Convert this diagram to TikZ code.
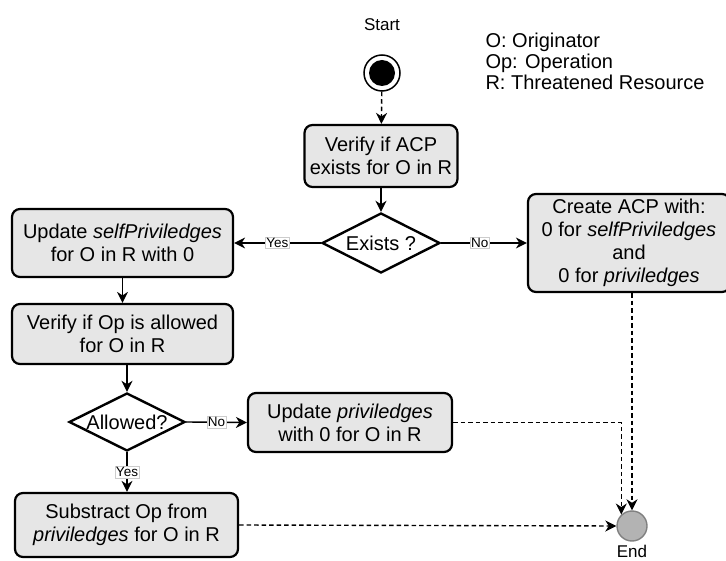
\documentclass[tikz,border=0pt]{standalone}
\usepackage{fontspec}
\setmainfont{Liberation Sans}
\usetikzlibrary{shapes.geometric,arrows.meta}
\definecolor{boxfill}{HTML}{E6E6E6}
\definecolor{endfill}{HTML}{B3B3B3}
\definecolor{endline}{HTML}{808080}
\begin{document}
\begin{tikzpicture}[x=1pt,y=-1pt,
  every node/.style={font=\fontsize{20}{23}\selectfont},
  actbox/.style={draw=black,line width=2.2pt,fill=boxfill,rounded corners=8pt,
    align=center,inner sep=2pt},
  decision/.style={draw=black,line width=2.4pt,fill=white,diamond,aspect=2,
    inner sep=0pt},
  flow/.style={line width=1.4pt,-{Stealth[length=11pt,width=11pt,inset=3.5pt]}},
  flowdash/.style={flow,dash pattern=on 4.5pt off 3pt},
  branch/.style={font=\fontsize{13.5}{16}\selectfont,fill=white,draw=black!20,
    line width=0.5pt,inner sep=1pt},
  caption/.style={font=\fontsize{17}{20}\selectfont}]
\useasboundingbox (0,0) rectangle (726,561);

% start and end markers
\node[caption] (startlbl) at (382,25) {Start};
\node[circle,draw=black,line width=1.5pt,fill=white,minimum size=36pt,inner sep=0pt] (start) at (382,73) {};
\fill[black] (start.center) circle (13pt);
\node[circle,draw=endline,line width=1.4pt,fill=endfill,minimum size=30pt,inner sep=0pt] (endc) at (632,526) {};
\node[caption] (endlbl) at (632,551) {End};

% legend
\node[anchor=west,align=left,font=\fontsize{20}{21}\selectfont] (legend) at (482,61)
  {O: Originator\\Op: Operation\\R: Threatened Resource};

% activities
\node[actbox,minimum width=153pt,minimum height=62pt] (acp) at (381,156)
  {Verify if ACP\\exists for O in R};
\node[decision,minimum width=118pt,minimum height=60pt] (exists) at (381,243)
  {\makebox[0pt]{Exists ?}};
\node[actbox,minimum width=221pt,minimum height=68pt] (selfp) at (122.5,243)
  {Update \textit{selfPriviledges}\\for O in R with 0};
\node[actbox,minimum width=202pt,minimum height=98pt] (create) at (629,243)
  {Create ACP with:\\0 for \textit{selfPriviledges}\\and\\0 for \textit{priviledges}};
\node[actbox,minimum width=221pt,minimum height=60pt] (verop) at (122.5,334)
  {Verify if Op is allowed\\for O in R};
\node[decision,minimum width=116pt,minimum height=58pt] (allowed) at (127,422)
  {\makebox[0pt]{Allowed?}};
\node[actbox,minimum width=204pt,minimum height=59pt] (uprv) at (350,422.5)
  {Update \textit{priviledges}\\with 0 for O in R};
\node[actbox,minimum width=223pt,minimum height=64pt] (subs) at (126.5,525)
  {Substract Op from\\\textit{priviledges} for O in R};

% connectors
\draw[flowdash] (start) -- (acp);
\draw[flow] (acp) -- (exists);
\draw[flow] (exists.west) -- node[branch] {Yes} (selfp.east);
\draw[flow] (exists.east) -- node[branch,pos=0.45] {No} (create.west);
\draw[flow] (selfp) -- (verop);
\draw[flow] (verop.south -| allowed.north) -- (allowed.north);
\draw[flow] (allowed.east) -- node[branch] {No} (uprv.west);
\draw[flow] (allowed.south) -- node[branch] {Yes} (allowed.south |- subs.north);
\draw[flowdash] (endc.north |- create.south) -- (endc.north);
\draw[flowdash] (uprv.east) -| (endc.133);
\draw[flowdash] (subs.east) -- (endc.west);
\end{tikzpicture}
\end{document}
